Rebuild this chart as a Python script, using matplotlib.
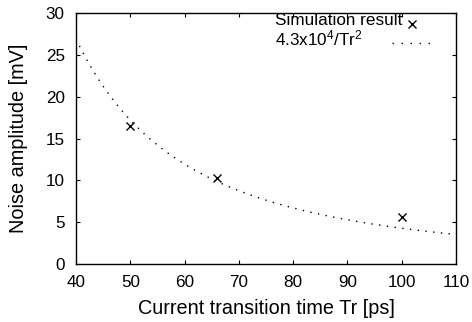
import numpy as np
import matplotlib
matplotlib.use("Agg")
import matplotlib.pyplot as plt
from matplotlib.lines import Line2D

plt.rcParams['font.family'] = ['Liberation Sans', 'DejaVu Sans']
plt.rcParams['mathtext.fontset'] = 'custom'
plt.rcParams['mathtext.rm'] = 'Liberation Sans'
plt.rcParams['mathtext.it'] = 'Liberation Sans'
plt.rcParams['mathtext.default'] = 'regular'

# Data
sim_tr = [50, 66, 100]
sim_noise = [16.5, 10.3, 5.6]
fit_coef = 4.3e4
fit_tr = np.linspace(40, 110, 200)
xticks = [40, 50, 60, 70, 80, 90, 100, 110]
yticks = [0, 5, 10, 15, 20, 25, 30]
sim_label = 'Simulation result'
fit_label = '4.3x10$^{4}$/Tr$^{2}$'

W, H = 472, 322
fig = plt.figure(figsize=(W/100, H/100), dpi=100)
ax = fig.add_axes([76/W, 1 - 264.3/H, (456-76)/W, (264.3-12.7)/H])

dot_style = (0, (1, 4.6))
ax.plot(sim_tr, sim_noise, linestyle='none', marker='x', color='black',
        markersize=6, markeredgewidth=1.0)
ax.plot(fit_tr, fit_coef / fit_tr**2, color='black', linewidth=1.0,
        linestyle=dot_style)

ax.set_xlim(40, 110)
ax.set_ylim(0, 30)
ax.set_xticks(xticks)
ax.set_yticks(yticks)
ax.tick_params(direction='in', top=True, right=True, length=3, width=0.8,
               labelsize=12.3)
ax.tick_params(axis='x', pad=8)
ax.tick_params(axis='y', pad=8)
for s in ax.spines.values():
    s.set_linewidth(1.0)

ax.set_xlabel('Current transition time Tr [ps]', fontsize=14.3, labelpad=6)
ax.set_ylabel('Noise amplitude [mV]', fontsize=14.3, labelpad=13)

# Key (gnuplot style: text left-aligned, sample on the right)
def fx(px):
    return px / W

def fy(py):
    return 1 - py / H

fig.text(fx(275), fy(25), sim_label, fontsize=12.3, ha='left', va='baseline')
fig.text(fx(275), fy(45), fit_label, fontsize=12.3, ha='left', va='baseline')
fig.add_artist(Line2D([fx(412)], [fy(23.5)], transform=fig.transFigure,
                      linestyle='none', marker='x', color='black',
                      markersize=6, markeredgewidth=1.0))
fig.add_artist(Line2D([fx(392), fx(436)], [fy(43), fy(43)],
                      transform=fig.transFigure, color='black',
                      linewidth=1.0, linestyle=(0, (1, 5.5))))

fig.savefig('out.png', dpi=100)
